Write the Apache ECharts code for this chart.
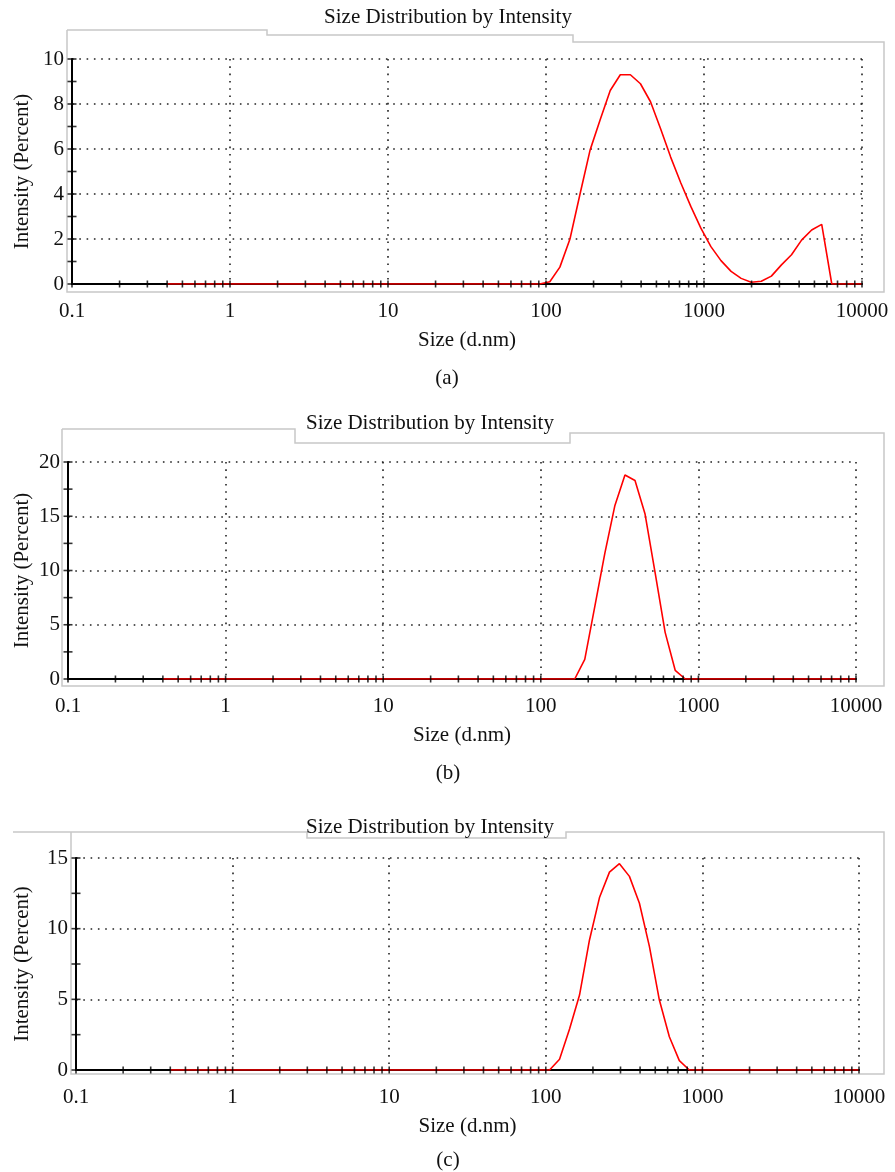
<!DOCTYPE html>
<html><head><meta charset="utf-8">
<script src="https://cdn.jsdelivr.net/npm/echarts@6/dist/echarts.min.js"></script>
<style>html,body{margin:0;padding:0;background:#fff}#c{width:895px;height:1172px}</style>
</head><body><div id="c"></div><script>
// Size bins (d.nm)
const sizeBins = [0.4,0.4632,0.5365,0.6213,0.7195,0.8332,0.9649,1.117,1.294,1.499,1.736,2.01,2.328,2.696,3.122,3.615,4.187,4.849,5.615,6.503,7.531,8.721,10.1,11.7,13.54,15.69,18.17,21.04,24.36,28.21,32.67,37.84,43.82,50.75,58.77,68.06,78.82,91.28,105.7,122.4,141.8,164.2,190.1,220.2,255.0,295.3,342.0,396.1,458.7,531.2,615.1,712.4,825.0,955.4,1106,1281,1484,1718,1990,2305,2669,3091,3580,4145,4801,5560,6439,7456,8635,10000];
// Intensity (Percent), panel (a)
const intensityA = [0,0,0,0,0,0,0,0,0,0, 0,0,0,0,0,0,0,0,0,0, 0,0,0,0,0,0,0,0,0,0, 0,0,0,0,0,0,0,0,
  0.1,0.75,2.0,4.0,5.95,7.3,8.6,9.3,9.3,8.9,8.1,6.9,5.64,4.5,3.45,2.48,1.66,1.04,0.56,0.25,0.08,0.12,0.35,0.85,1.3,1.95,2.4,2.65,
  0,0,0,0];
// panel (b)
const intensityB = [0,0,0,0,0,0,0,0,0,0, 0,0,0,0,0,0,0,0,0,0, 0,0,0,0,0,0,0,0,0,0, 0,0,0,0,0,0,0,0,0,0, 0,0,
  1.8,6.7,11.6,16.0,18.8,18.3,15.2,9.8,4.3,0.8,
  0,0,0,0,0,0,0,0,0,0,0,0,0,0,0,0,0,0];
// panel (c)
const intensityC = [0,0,0,0,0,0,0,0,0,0, 0,0,0,0,0,0,0,0,0,0, 0,0,0,0,0,0,0,0,0,0, 0,0,0,0,0,0,0,0,0,
  0.76,2.9,5.3,9.2,12.2,14.0,14.6,13.7,11.8,8.75,4.95,2.35,0.66,
  0,0,0,0,0,0,0,0,0,0,0,0,0,0,0,0,0,0];

const xMin = 0.1, xMax = 10000;
const yMaxes = [10, 20, 15];
const yLabelSteps = [2, 5, 5];
const yTickSteps = [1, 2.5, 2.5];
const titleText = 'Size Distribution by Intensity';
const xName = 'Size (d.nm)';
const yName = 'Intensity (Percent)';
const captions = ['(a)', '(b)', '(c)'];

// tick positions on the log x axis (decades and 2..9 multiples)
const xTickValues = [];
for (const d of [0.1, 1, 10, 100, 1000]) for (let k = 1; k <= 9; k++) xTickValues.push(+(k * d).toPrecision(3));
xTickValues.push(10000);

const FONT = "'Liberation Serif','Times New Roman',serif";
const FS = 21;

// layout
const grids = [
  {left: 72, right: 33, top: 59, height: 225, outerBoundsMode: 'none', containLabel: false},
  {left: 68, right: 39, top: 462, height: 217, outerBoundsMode: 'none', containLabel: false},
  {left: 76, right: 36, top: 858, height: 212, outerBoundsMode: 'none', containLabel: false}
];
const yNameGaps = [39, 35, 43];
const titlePos = [[448, 17], [430, 423], [430, 827]];
const captionPos = [[447, 378], [448, 773], [448, 1160]];
const frames = [
  [[67,30],[267,30],[267,35],[573,35],[573,42],[884,42],[884,292],[67,292],[67,30]],
  [[62,429],[295,429],[295,443],[570,443],[570,433],[884,433],[884,686],[62,686],[62,429]],
  [[13,832],[307,832],[307,838],[566,838],[566,832],[884,832],[884,1074],[71,1074],[71,832]]
];

const intensities = [intensityA, intensityB, intensityC];
const dotted = {color: '#222', width: 1.6, type: [1.6, 5.7]};

const xAxes = [], yAxes = [], series = [], graphics = [];
for (let p = 0; p < 3; p++) {
  xAxes.push({
    type: 'log', logBase: 10, gridIndex: p, min: xMin, max: xMax, splitNumber: 5,
    name: xName, nameLocation: 'middle', nameGap: 46, nameMoveOverlap: false,
    nameTextStyle: {fontFamily: FONT, fontSize: FS, color: '#111'},
    axisLine: {show: true, onZero: false, lineStyle: {color: '#000', width: 2}},
    axisTick: {show: false},
    axisLabel: {fontFamily: FONT, fontSize: FS, color: '#111', margin: 17, hideOverlap: false,
      formatter: v => String(+(+v).toPrecision(3))},
    splitLine: {show: true, lineStyle: dotted}
  });
  yAxes.push({
    type: 'value', gridIndex: p, min: 0, max: yMaxes[p], interval: yLabelSteps[p],
    name: yName, nameLocation: 'middle', nameGap: yNameGaps[p], nameRotate: 90, nameMoveOverlap: false,
    nameTextStyle: {fontFamily: FONT, fontSize: FS, color: '#111'},
    axisLine: {show: true, lineStyle: {color: '#000', width: 2}},
    axisTick: {show: false},
    axisLabel: {fontFamily: FONT, fontSize: FS, color: '#111', margin: 8},
    splitLine: {show: true, lineStyle: dotted}
  });
  series.push({
    type: 'line', xAxisIndex: p, yAxisIndex: p, showSymbol: false, symbol: 'none',
    data: sizeBins.map((s, i) => [s, intensities[p][i]]),
    lineStyle: {color: '#ff0000', width: 1.6}, itemStyle: {color: '#ff0000'},
    z: 3, animation: false, silent: true
  });
  series.push({
    type: 'scatter', xAxisIndex: p, yAxisIndex: p, symbol: 'rect', symbolSize: [1.6, 7],
    data: xTickValues.map(v => [v, 0]), itemStyle: {color: '#000'}, z: 5, silent: true, animation: false
  });
  const yt = [];
  for (let v = 0; v <= yMaxes[p] + 1e-9; v += yTickSteps[p]) yt.push([xMin, v]);
  series.push({
    type: 'scatter', xAxisIndex: p, yAxisIndex: p, symbol: 'rect', symbolSize: [9, 1.6],
    data: yt, itemStyle: {color: '#000'}, z: 5, silent: true, animation: false
  });
  graphics.push({type: 'polyline', shape: {points: frames[p]}, style: {stroke: '#c8c8c8', fill: null, lineWidth: 1.5}, z: -1, silent: true});
  graphics.push({type: 'text', x: titlePos[p][0], y: titlePos[p][1], style: {text: titleText, font: FS + 'px ' + FONT, fill: '#111', align: 'center', verticalAlign: 'middle'}});
  graphics.push({type: 'text', x: captionPos[p][0], y: captionPos[p][1], style: {text: captions[p], font: FS + 'px ' + FONT, fill: '#111', align: 'center', verticalAlign: 'middle'}});
}

const chart = echarts.init(document.getElementById('c'));
chart.setOption({
  animation: false,
  backgroundColor: '#fff',
  grid: grids,
  xAxis: xAxes,
  yAxis: yAxes,
  series: series,
  graphic: graphics
});
</script></body></html>
